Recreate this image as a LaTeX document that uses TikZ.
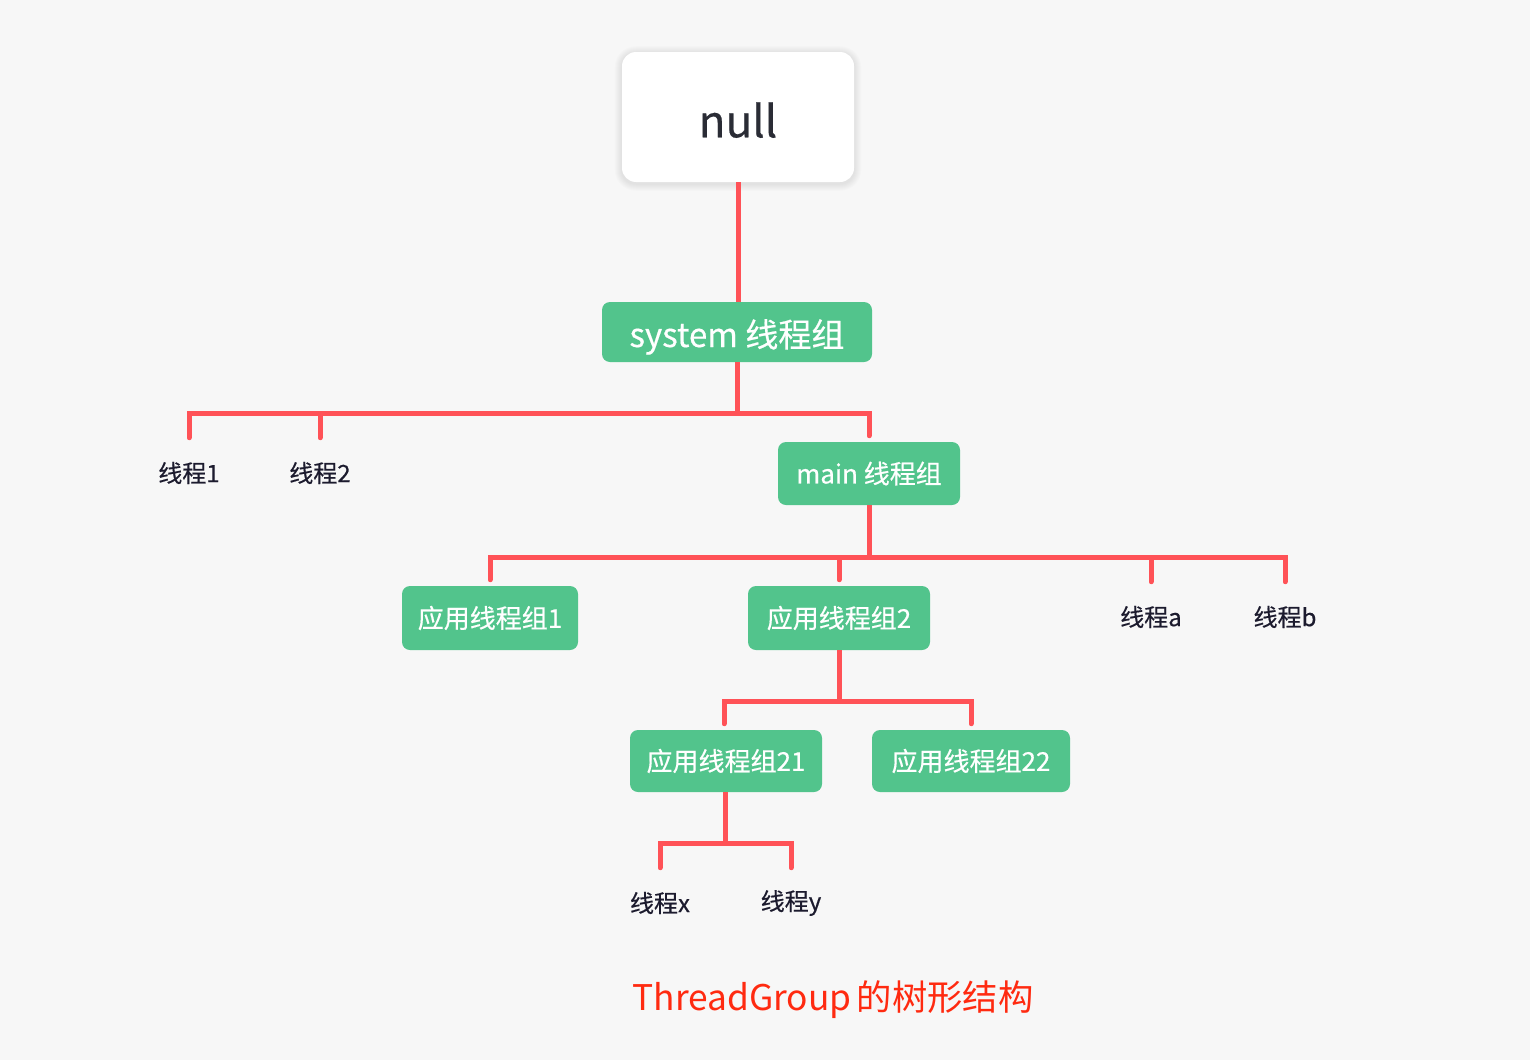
\documentclass[tikz,border=0pt]{standalone}
\usepackage{fontspec}
\setmainfont{Noto Sans CJK SC}[FakeBold=0.5]
\newfontfamily\capfont{Noto Sans CJK SC}
\usetikzlibrary{backgrounds}
\definecolor{bgc}{HTML}{F7F7F7}
\definecolor{grn}{HTML}{52C48C}
\definecolor{lnc}{HTML}{FF5257}
\definecolor{lbl}{HTML}{1C1B2E}
\definecolor{nullc}{HTML}{2A2C35}
\definecolor{capc}{HTML}{FF2A10}
\tikzset{
  grpbox/.style={fill=grn, text=white, rounded corners=6pt, inner sep=0pt,
    font=\fontsize{19.5pt}{23pt}\selectfont},
  thr/.style={text=lbl, inner sep=0pt, minimum height=52.5pt,
    font=\fontsize{18pt}{22pt}\selectfont},
  conn/.style={draw=lnc, line width=3.75pt, line cap=round},
  toBox/.style={shorten <=4.5pt},
}
\begin{document}
\begin{tikzpicture}[x=0.75pt, y=-0.75pt]
\begin{scope}[on background layer]
\fill[bgc] (0,0) rectangle (1530,1060);
\end{scope}
\useasboundingbox (0,0) rectangle (1530,1060);

\node[fill=white, rounded corners=10.5pt, minimum width=174pt, minimum height=97.5pt,
  inner sep=0pt, text=nullc, font=\fontsize{33pt}{38pt}\selectfont] (null) at (738,117)
  {\smash{null}\rule{0pt}{30.5pt}};
\begin{scope}[on background layer]
\foreach \i in {1,...,7}{
  \fill[black, opacity=0.012, rounded corners=10.5pt+0.75*\i pt]
    ([shift={(-\i,\i+1.5)}]null.south west) rectangle ([shift={(\i,-\i+1.5)}]null.north east);
}
\end{scope}

\node[grpbox, minimum width=202.5pt, minimum height=45pt, font=\fontsize{24.8pt}{28pt}\selectfont] (sys) at (737,332)
  {\smash{system 线程组}\rule{0pt}{22.5pt}};

\node[grpbox, minimum width=136.5pt, minimum height=47.25pt] (main) at (869,473.5) {main 线程组};
\node[thr] (t1) at (189,473) {线程1};
\node[thr] (t2) at (320,473) {线程2};

\node[grpbox, minimum width=132pt, minimum height=48pt] (app1) at (490,618) {应用线程组1};
\node[grpbox, minimum width=136.5pt, minimum height=48pt] (app2) at (839,618) {应用线程组2};
\node[thr] (ta) at (1151,617) {线程a};
\node[thr] (tb) at (1285,617) {线程b};

\node[grpbox, minimum width=144pt, minimum height=46.5pt] (app21) at (726,761) {应用线程组21};
\node[grpbox, minimum width=148.5pt, minimum height=46.5pt] (app22) at (971,761) {应用线程组22};

\node[thr] (tx) at (660,903) {线程x};
\node[thr] (ty) at (791,903) {线程y};

\node[text=capc, font=\capfont\fontsize{26.5pt}{31pt}\selectfont] (cap) at (833,1000) {ThreadGroup\kern-2pt\ 的树形结构};

% connectors
\draw[conn, line cap=butt] (null.south) -- (null.south |- sys.north);

\coordinate (busA) at (737,413);
\draw[conn, line cap=butt] (sys.south) -- (busA);
\draw[conn] (t1.north) |- (busA);
\draw[conn] (t2.north) |- (busA);
\draw[conn, toBox] (main.north) |- (busA);

\coordinate (busB) at (869,557);
\draw[conn, line cap=butt] (main.south) -- (busB);
\draw[conn, toBox] (app1.north) |- (busB);
\draw[conn, toBox] (app2.north) |- (busB);
\draw[conn] (ta.north) |- (busB);
\draw[conn] (tb.north) |- (busB);

\coordinate (busC) at (839,701);
\draw[conn, line cap=butt] (app2.south) -- (busC);
\draw[conn, toBox] ([xshift=-1.5pt]app21.north) |- (busC);
\draw[conn, toBox] (app22.north) |- (busC);

\coordinate (busD) at (725,843);
\draw[conn, line cap=butt] ([xshift=-0.75pt]app21.south) -- (busD);
\draw[conn] (tx.north) |- (busD);
\draw[conn] (ty.north) |- (busD);
\end{tikzpicture}
\end{document}
